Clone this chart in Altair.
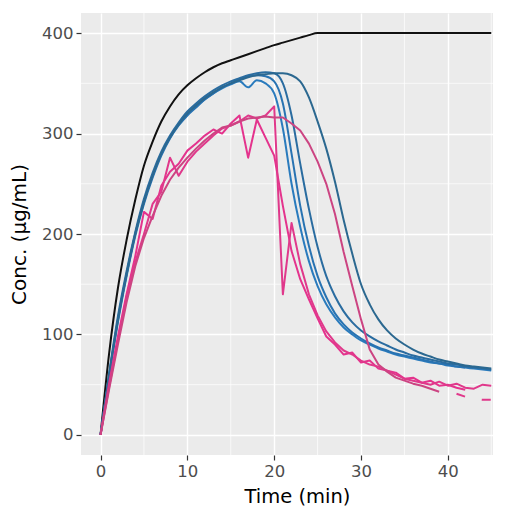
import altair as alt
import pandas as pd

# ---------------- data ----------------
minutes = list(range(46))

t_black = [0, 1, 2, 3, 4, 5, 6, 7, 8, 9, 10, 11, 12, 13, 14, 15, 16, 17, 18, 19, 20, 21, 22, 23, 24, 25, 45]
c_black = [0, 82, 146, 194, 234, 268, 292, 312, 327, 339, 348, 355, 361, 366, 370, 373, 376, 379, 382, 385, 388, 390.5, 393, 395.5, 398, 400, 400]

c_blue1 = [0, 60, 115, 160, 200, 232, 258, 280, 296, 309, 319, 327, 334, 340, 345, 349, 352, 346, 353, 350,
           340, 305, 250, 207, 173, 148, 130, 117, 107, 100, 94, 90, 86, 83, 80, 78, 76, 74, 72, 71,
           69, 68, 67, 66, 65, 64]
c_blue2 = [0, 58, 112, 158, 198, 230, 256, 278, 295, 308, 318, 326, 334, 340, 346, 350, 354, 357, 358, 357,
           352, 330, 280, 228, 188, 158, 137, 121, 110, 102, 96, 91, 87, 84, 81, 79, 77, 75, 73, 71,
           70, 68, 67]
c_blue3 = [0, 62, 118, 163, 202, 235, 261, 282, 298, 311, 322, 330, 337, 343, 348, 352, 355, 358, 360, 361,
           360, 350, 318, 270, 225, 187, 158, 138, 123, 112, 104, 98, 93, 89, 85, 82, 79, 77, 75, 73,
           71, 70, 68, 67, 66, 65]
c_blue4 = [0, 60, 114, 160, 200, 232, 258, 280, 296, 309, 320, 328, 335, 341, 346, 350, 353, 356, 358, 359,
           360, 360, 358, 352, 336, 312, 285, 252, 214, 180, 150, 130, 115, 104, 96, 90, 85, 81, 78, 75,
           73, 71, 69, 68, 67, 66]

c_pink1 = [0, 52, 98, 140, 178, 222, 215, 248, 262, 270, 283, 290, 298, 304, 300, 310, 318, 276, 314, 296,
           278, 228, 183, 155, 135, 116, 98, 90, 80, 82, 72, 74, 66, 64, 62, 56, 57, 52, 54, 49,
           50, 47, 45]
c_pink2 = [0, 48, 94, 138, 172, 200, 230, 242, 276, 258, 272, 282, 290, 298, 305, 308, 312, 318, 315, 318,
           327, 140, 211, 170, 140, 119, 103, 92, 84, 80, 74, 70, 68, 64, 60, 56, 54, 52, 50, 53,
           49, 51, 47, 46, 50, 49]
c_pink3 = [0, 46, 90, 132, 168, 196, 218, 238, 254, 266, 276, 285, 293, 300, 306, 308, 312, 315, 316, 317,
           316, 316, 310, 303, 290, 272, 250, 220, 182, 148, 115, 85, 70, 63, 57, 54, 51, 49, 46, 43]

t_dash = [41, 42, 43, 44, 45]
c_dash = [41, 38, 36, 35, 35]

smooth_names = ["black", "blue1", "blue2", "blue3", "blue4"]
smooth_colors = ["#111111", "#2a7bbd", "#2873b2", "#2a6ca0", "#2b6890"]
rough_names = ["pink1", "pink2", "pink3"]
rough_colors = ["#e4338d", "#e0388b", "#cc4482"]

x_major = [0, 10, 20, 30, 40]
x_minor = [5, 15, 25, 35, 45]
y_major = [0, 100, 200, 300, 400]
y_minor = [50, 150, 250, 350]

# ---------------- build tables ----------------
def table(pairs):
    rows = []
    for name, ts, cs in pairs:
        for i, v in enumerate(cs):
            rows.append({"series": name, "t": ts[i], "c": v})
    return pd.DataFrame(rows)

df_smooth = table([("black", t_black, c_black), ("blue1", minutes, c_blue1), ("blue2", minutes, c_blue2),
                   ("blue3", minutes, c_blue3), ("blue4", minutes, c_blue4)])
df_rough = table([("pink1", minutes, c_pink1), ("pink2", minutes, c_pink2), ("pink3", minutes, c_pink3)])
df_dash = pd.DataFrame({"t": t_dash, "c": c_dash})

FONT = "DejaVu Sans"
xscale = alt.Scale(domain=[-2.25, 45.2], nice=False, zero=False)
yscale = alt.Scale(domain=[-20, 420], nice=False, zero=False)

xaxis = alt.Axis(values=x_major, title="Time (min)", grid=True, gridColor="white", gridWidth=1.4,
                 domain=False, tickColor="#333333", tickSize=5, tickWidth=1.2,
                 labelFont=FONT, labelFontSize=16.5, labelColor="#4d4d4d", labelPadding=3,
                 titleFont=FONT, titleFontSize=19.5, titleColor="#000000", titleFontWeight="normal",
                 titlePadding=8, titleX=216, titleAlign="center")
yaxis = alt.Axis(values=y_major, title="Conc. (μg/mL)", grid=True, gridColor="white", gridWidth=1.4,
                 domain=False, tickColor="#333333", tickSize=5, tickWidth=1.2,
                 labelFont=FONT, labelFontSize=16.5, labelColor="#4d4d4d", labelPadding=3,
                 titleFont=FONT, titleFontSize=20, titleColor="#000000", titleFontWeight="normal",
                 titlePadding=12)

minor_v = alt.Chart(pd.DataFrame({"t": x_minor})).mark_rule(color="white", strokeWidth=0.7).encode(
    x=alt.X("t:Q", scale=xscale, axis=xaxis))
minor_h = alt.Chart(pd.DataFrame({"c": y_minor})).mark_rule(color="white", strokeWidth=0.7).encode(
    y=alt.Y("c:Q", scale=yscale, axis=yaxis))

smooth = alt.Chart(df_smooth).mark_line(strokeWidth=2, interpolate="monotone").encode(
    x=alt.X("t:Q", scale=xscale, axis=xaxis),
    y=alt.Y("c:Q", scale=yscale, axis=yaxis),
    color=alt.Color("series:N", scale=alt.Scale(domain=smooth_names, range=smooth_colors), legend=None),
)

rough = alt.Chart(df_rough).mark_line(strokeWidth=2, strokeJoin="round").encode(
    x=alt.X("t:Q", scale=xscale, axis=xaxis),
    y=alt.Y("c:Q", scale=yscale, axis=yaxis),
    stroke=alt.Stroke("series:N", scale=alt.Scale(domain=rough_names, range=rough_colors), legend=None),
)

dashed = alt.Chart(df_dash).mark_line(strokeWidth=2, color="#e0388b", strokeDash=[9, 17]).encode(
    x=alt.X("t:Q", scale=xscale, axis=xaxis),
    y=alt.Y("c:Q", scale=yscale, axis=yaxis),
)

chart = alt.layer(minor_v, minor_h, smooth, rough, dashed).resolve_scale(
    color="independent", stroke="independent"
).properties(
    width=412, height=442,
    padding={"left": 81, "top": 13, "right": 14, "bottom": 55},
    autosize="none",
    background="white",
).configure_view(fill="#ebebeb", strokeWidth=0)

chart.save("out.html", embed_options={"renderer": "svg", "actions": False})
